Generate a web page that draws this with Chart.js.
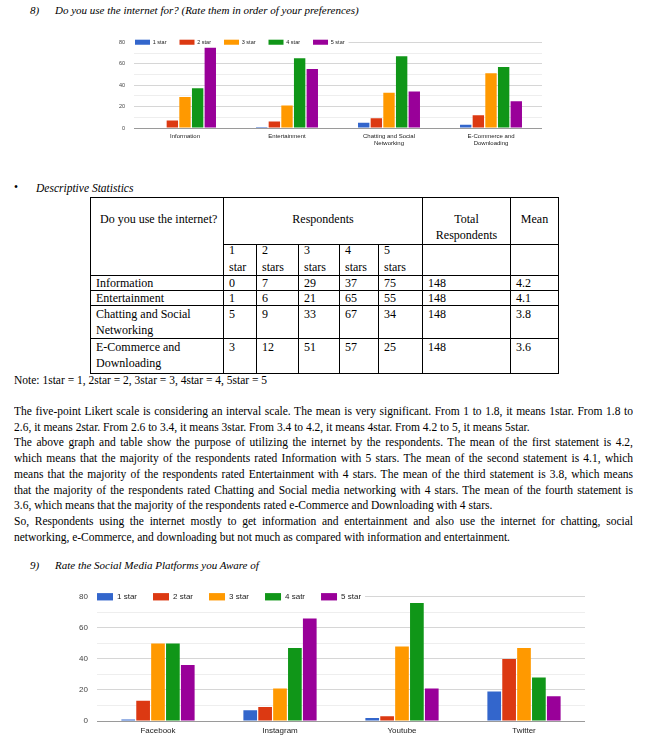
<!DOCTYPE html>
<html>
<head>
<meta charset="utf-8">
<script src="https://cdn.jsdelivr.net/npm/chart.js@4.4.0/dist/chart.umd.min.js"></script>
<style>
  body { margin: 0; background: #fff; font-family: "Liberation Serif", serif; font-size: 11.5px; color: #000; }
  .abs { position: absolute; white-space: nowrap; }
  .it { font-style: italic; }
  .hq { font-size: 11px; }
  .line { position: absolute; left: 14px; width: 619px; height: 16px; line-height: 16px; white-space: nowrap; }
  .j { text-align: justify; text-align-last: justify; white-space: normal; overflow: hidden; }
  #stats { position: absolute; left: 90px; top: 197px; border-collapse: collapse; table-layout: fixed; width: 469px; font-size: 12px; }
  #stats td { border: 1px solid #000; padding: 0 0 0 5px; vertical-align: top; line-height: 16px; }
  #stats .hd { text-align: center; padding: 13px 0 0 0; }
  canvas { position: absolute; }
</style>
</head>
<body>

<div class="abs it hq" style="left:30px;top:4px;">8)</div>
<div class="abs it hq" style="left:55px;top:4px;">Do you use the internet for? (Rate them in order of your preferences)</div>

<canvas id="chart1" width="450" height="122" style="left:100px;top:30px;"></canvas>

<div class="abs" style="left:14px;top:181px;">&#8226;</div>
<div class="abs it" style="left:36px;top:182px;">Descriptive Statistics</div>

<table id="stats"></table>

<div class="abs" style="left:14px;top:374px;">Note: 1star = 1, 2star = 2, 3star = 3, 4star = 4, 5star = 5</div>

<div class="line j" style="top:403px;">The five-point Likert scale is considering an interval scale. The mean is very significant. From 1 to 1.8, it means 1star. From 1.8 to</div>
<div class="line" style="top:418.7px;">2.6, it means 2star. From 2.6 to 3.4, it means 3star. From 3.4 to 4.2, it means 4star. From 4.2 to 5, it means 5star.</div>
<div class="line j" style="top:434.4px;">The above graph and table show the purpose of utilizing the internet by the respondents. The mean of the first statement is 4.2,</div>
<div class="line j" style="top:450.1px;">which means that the majority of the respondents rated Information with 5 stars. The mean of the second statement is 4.1, which</div>
<div class="line j" style="top:465.8px;">means that the majority of the respondents rated Entertainment with 4 stars. The mean of the third statement is 3.8, which means</div>
<div class="line j" style="top:481.5px;">that the majority of the respondents rated Chatting and Social media networking with 4 stars. The mean of the fourth statement is</div>
<div class="line" style="top:497.2px;">3.6, which means that the majority of the respondents rated e-Commerce and Downloading with 4 stars.</div>
<div class="line j" style="top:512.9px;">So, Respondents using the internet mostly to get information and entertainment and also use the internet for chatting, social</div>
<div class="line" style="top:528.6px;">networking, e-Commerce, and downloading but not much as compared with information and entertainment.</div>

<div class="abs it hq" style="left:30px;top:559px;">9)</div>
<div class="abs it hq" style="left:55px;top:559px;">Rate the Social Media Platforms you Aware of</div>

<canvas id="chart2" width="540" height="160" style="left:60px;top:583px;"></canvas>

<script>
// Q8: internet usage ratings (same numbers as the table)
const usageCategories = ["Information", "Entertainment", ["Chatting and Social", "Networking"], ["E-Commerce and", "Downloading"]];
const usageNames = ["1 star", "2 star", "3 star", "4 star", "5 star"];
const usage1 = [0, 1, 5, 3];
const usage2 = [7, 6, 9, 12];
const usage3 = [29, 21, 33, 51];
const usage4 = [37, 65, 67, 57];
const usage5 = [75, 55, 34, 25];
const usageTotal = [148, 148, 148, 148];
const usageMean = ["4.2", "4.1", "3.8", "3.6"];

// Q9: social media platforms
const platforms = ["Facebook", "Instagram", "Youtube", "Twitter"];
const platformNames = ["1 star", "2 star", "3 star", "4 satr", "5 star"];
const plat1 = [1, 7, 2, 19];
const plat2 = [13, 9, 3, 40];
const plat3 = [50, 21, 48, 47];
const plat4 = [50, 47, 76, 28];
const plat5 = [36, 66, 21, 16];

const yTicks = [0, 20, 40, 60, 80];
const colors = ["#3366cc", "#dc3912", "#ff9900", "#109618", "#990099"];

// table
const tableRowLabels = ["Information", "Entertainment", "Chatting and Social<br>Networking", "E-Commerce and<br>Downloading"];
const starLabels = ["1<br>star", "2<br>stars", "3<br>stars", "4<br>stars", "5<br>stars"];
const rowHeights = [15, 15, 33, 35];
let html = '<colgroup>' + [133, 33, 42, 41, 39, 44, 88, 48].map(w => '<col style="width:' + w + 'px">').join('') + '</colgroup>';
html += '<tr style="height:47px"><td rowspan="2" style="padding:13px 0 0 9px">Do you use the internet?</td>' +
  '<td colspan="5" class="hd">Respondents</td>' +
  '<td class="hd">Total<br>Respondents</td>' +
  '<td class="hd">Mean</td></tr>';
html += '<tr style="height:31px">' + starLabels.map(s => '<td><div style="margin-top:-3px;line-height:17px;height:30px">' + s + '</div></td>').join('') + '<td></td><td></td></tr>';
const cols = [usage1, usage2, usage3, usage4, usage5];
for (let r = 0; r < 4; r++) {
  const st = rowHeights[r] < 20 ? ' style="line-height:14px"' : '';
  const cells = [tableRowLabels[r]].concat(cols.map(c => c[r]), [usageTotal[r], usageMean[r]]);
  html += '<tr style="height:' + rowHeights[r] + 'px">' + cells.map(v => '<td' + st + '>' + v + '</td>').join('') + '</tr>';
}
document.getElementById("stats").innerHTML = html;

function makeChart(id, labels, names, series, o) {
  return new Chart(document.getElementById(id), {
    type: "bar",
    data: {
      labels: labels,
      datasets: series.map((d, i) => ({
        label: names[i],
        data: d,
        backgroundColor: colors[i],
        borderWidth: 0,
        categoryPercentage: o.cat,
        barPercentage: o.bar,
      })),
    },
    options: {
      responsive: false,
      animation: false,
      layout: { padding: { top: o.top, right: o.right, left: 0, bottom: 0 } },
      plugins: {
        tooltip: { enabled: false },
        legend: {
          position: "top",
          align: "start",
          labels: {
            boxWidth: o.boxW,
            boxHeight: o.boxH,
            padding: o.legPad,
            color: "#222",
            font: { family: "Liberation Sans", size: o.legFont },
          },
        },
      },
      scales: {
        y: {
          min: 0,
          max: 80,
          afterFit: s => { s.width = o.yWidth; },
          ticks: {
            stepSize: 10,
            callback: v => (yTicks.includes(v) ? v : ""),
            color: "#444",
            padding: o.yPad,
            font: { family: "Liberation Sans", size: o.tickFont },
          },
          grid: {
            drawTicks: false,
            color: c => (c.tick.value === 0 ? "#9a9a9a" : yTicks.includes(c.tick.value) ? "#d6d6d6" : "#eeeeee"),
          },
          border: { display: false },
        },
        x: {
          afterFit: s => { s.height = o.xHeight; },
          grid: { display: false, drawTicks: false },
          border: { display: false },
          ticks: {
            color: "#222",
            padding: o.xPad,
            maxRotation: 0,
            autoSkip: false,
            font: { family: "Liberation Sans", size: o.xFont, lineHeight: 1.3 },
          },
        },
      },
    },
    plugins: [{
      // the legend sits on the top grid line and takes no room of its own
      id: "legendOnTopLine",
      afterInit(chart) {
        const l = chart.legend;
        const fit = l.fit.bind(l);
        l.fit = function () { fit(); this.height = 0; };
      },
      afterLayout(chart) {
        const l = chart.legend;
        l.top = chart.chartArea.top - o.legPad - Math.max(o.legFont, o.boxH) / 2;
        l.left = chart.chartArea.left - o.legPad + o.legX;
        l.right = chart.width;
        l.bottom = l.top + 2 * o.legPad + 2 * o.legFont;
      },
      beforeDatasetsDraw(chart) {
        // blank the top grid line behind the legend, then draw the legend again
        const l = chart.legend;
        const hb = l.legendHitBoxes;
        if (!hb || !hb.length) return;
        const last = hb[hb.length - 1];
        const ctx = chart.ctx;
        ctx.save();
        ctx.fillStyle = "#fff";
        ctx.fillRect(hb[0].left - 2, chart.chartArea.top - 3, last.left + last.width - hb[0].left + 6, 6);
        ctx.restore();
        l.draw();
      },
    }],
  });
}

makeChart("chart1", usageCategories, usageNames, [usage1, usage2, usage3, usage4, usage5], {
  cat: 0.62, bar: 0.9, top: 10, right: 8, yWidth: 34, xHeight: 24, yPad: 9, xPad: 4,
  tickFont: 5.5, xFont: 6, legFont: 5.5, boxW: 15, boxH: 5, legPad: 13, legX: 1,
});

makeChart("chart2", platforms, platformNames, [plat1, plat2, plat3, plat4, plat5], {
  cat: 0.61, bar: 0.92, top: 10, right: 15, yWidth: 37, xHeight: 22, yPad: 9, xPad: 5,
  tickFont: 8, xFont: 8, legFont: 8, boxW: 16, boxH: 7, legPad: 16, legX: 0,
});
</script>
</body>
</html>
